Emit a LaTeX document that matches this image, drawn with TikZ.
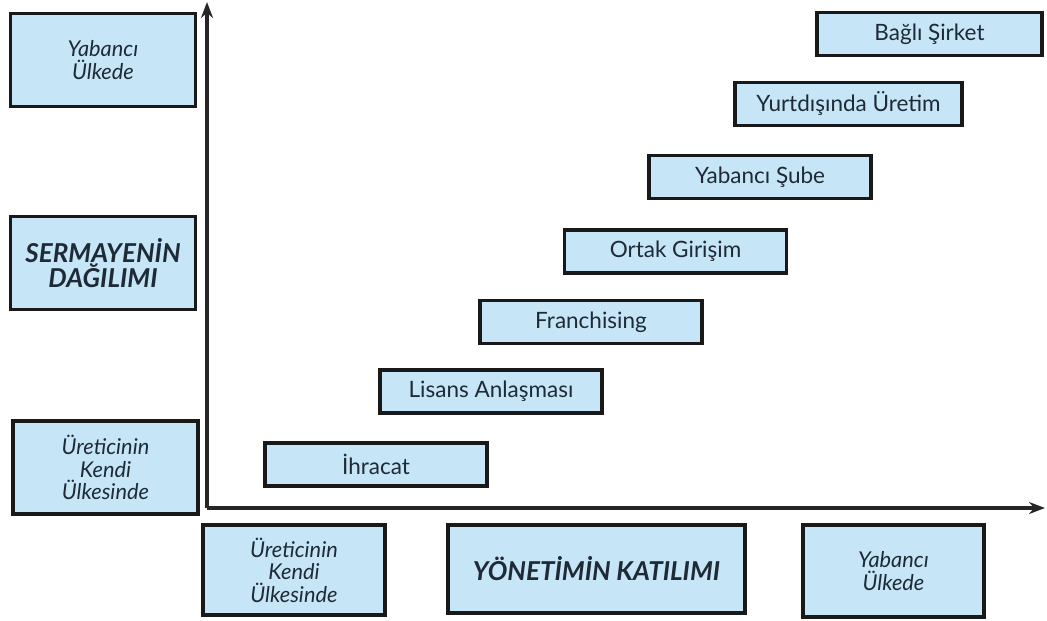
\documentclass[tikz,border=0pt]{standalone}
\usepackage{fontspec}
\setmainfont{Lato}
\usepackage{xcolor}
\usepackage{tikz}
\usetikzlibrary{arrows.meta, positioning}

\definecolor{boxblue}{HTML}{C6E6F8}
\definecolor{inkdark}{HTML}{1E2A36}

\begin{document}
\begin{tikzpicture}[
  x=0.025cm, y=-0.025cm,
  stepbox/.style={rectangle, draw=black!90, line width=2.6pt, fill=boxblue, text=inkdark, minimum width=5.55cm, minimum height=1.08cm, font=\fontsize{16}{18}\selectfont},
  sidebox/.style={rectangle, draw=black!90, line width=2.6pt, fill=boxblue, text=inkdark, minimum width=4.62cm, minimum height=2.33cm, align=center, font=\fontsize{15.5}{16}\selectfont\itshape},
  titlebox/.style={sidebox, font=\fontsize{18.5}{18}\selectfont\bfseries\itshape},
  axis/.style={-{Stealth[length=4mm, width=3mm]}, line width=2.6pt, black!85}
]
\useasboundingbox (0,0) rectangle (1047,620);

% side labels of the vertical axis
\node[sidebox] (yabanciL) at (103,60) {Yabancı\\Ülkede};
\node[titlebox] (sermaye) at (103,263) {SERMAYENİN\\DAĞILIMI};
\node[sidebox] (ureticiL) at (105.5,467.5) {Üreticinin\\Kendi\\Ülkesinde};

% labels under the horizontal axis
\node[sidebox, minimum width=4.55cm, minimum height=2.25cm] (ureticiB) at (294,570) {Üreticinin\\Kendi\\Ülkesinde};
\node[titlebox, minimum width=7.42cm, minimum height=2.2cm] (yonetim) at (596.5,569) {YÖNETİMİN KATILIMI};
\node[sidebox, minimum width=4.52cm, minimum height=2.3cm] (yabanciB) at (893.5,571) {Yabancı\\Ülkede};

% staircase
\node[stepbox] (ihracat) at (376,464.5) {İhracat};
\node[stepbox] (lisans) at (491,391.5) {Lisans Anlaşması};
\node[stepbox] (franch) at (591,322) {Franchising};
\node[stepbox] (ortak) at (675.5,251.5) {Ortak Girişim};
\node[stepbox] (sube) at (760,177) {Yabancı Şube};
\node[stepbox, minimum width=5.68cm] (uretim) at (848.5,104) {Yurtdışında Üretim};
\node[stepbox, minimum width=5.62cm] (bagli) at (929.5,34) {Bağlı Şirket};

% axes
\coordinate (origin) at (207,508);
\coordinate (ytop) at (207,2);
\coordinate (xend) at (1045,508);
\draw[axis] (origin) -- (ytop);
\draw[axis] (origin) -- (xend);

\end{tikzpicture}
\end{document}
